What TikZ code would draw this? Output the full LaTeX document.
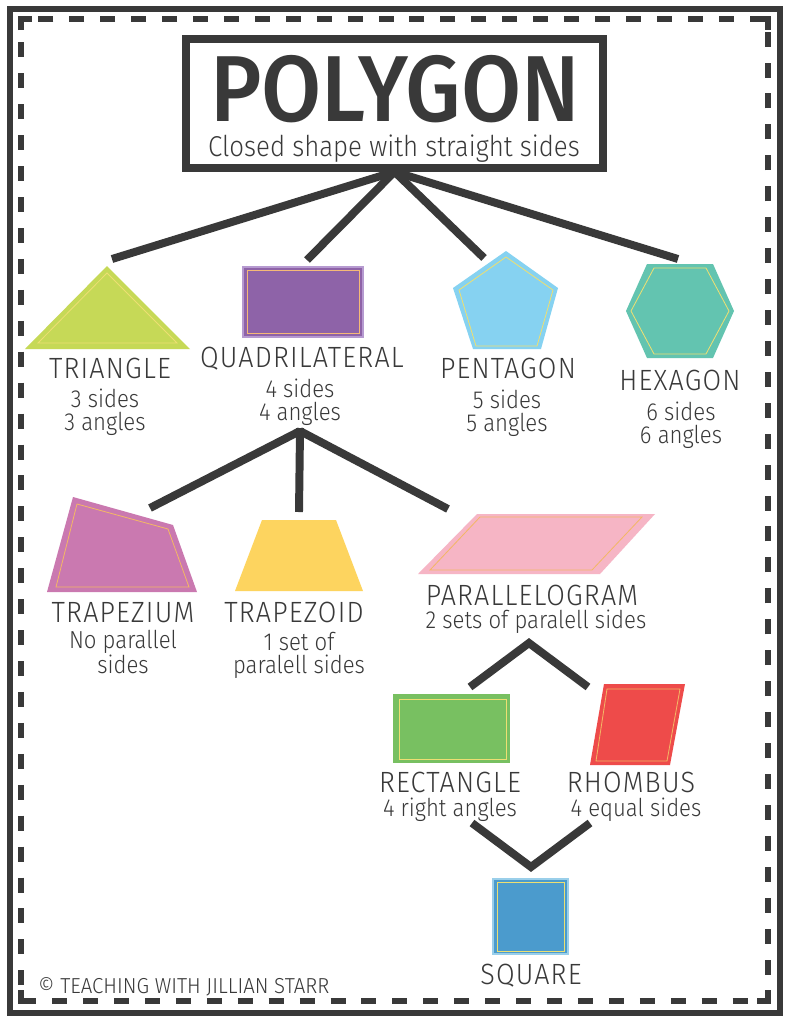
\documentclass[tikz,border=0pt]{standalone}
\usepackage{fontspec}
\setmainfont{Fira Sans Light}
\newfontfamily\titlefont[FakeStretch=0.93]{Fira Sans Medium}
\newfontfamily\capsfont[FakeStretch=0.92,LetterSpace=4]{Fira Sans Light}
\newfontfamily\descfont[FakeStretch=0.9]{Fira Sans Light}
\newfontfamily\creditfont[FakeStretch=0.94]{Fira Sans Light}
\definecolor{ink}{HTML}{393939}
\definecolor{trifill}{HTML}{C6D957}
\definecolor{quadfill}{HTML}{8E63A8}
\definecolor{quadedge}{HTML}{B69AD0}
\definecolor{pentfill}{HTML}{86D2F1}
\definecolor{hexfill}{HTML}{63C4B0}
\definecolor{trapmfill}{HTML}{CA79B0}
\definecolor{trapdfill}{HTML}{FDD45F}
\definecolor{parafill}{HTML}{F6B5C5}
\definecolor{rectfill}{HTML}{78C061}
\definecolor{rhomfill}{HTML}{EE4B4A}
\definecolor{sqfill}{HTML}{4B9BCD}
\definecolor{sqedge}{HTML}{9ACFEA}
\definecolor{yellowline}{HTML}{EDDF72}
\definecolor{orangeline}{HTML}{F3B765}
\begin{document}
\begin{tikzpicture}[x=0.03cm,y=-0.03cm,
    branch/.style={ink,line width=6.8pt,line join=miter},
    shapename/.style={text=ink,font=\capsfont\fontsize{25}{25}\selectfont,inner sep=0pt,anchor=base},
    shapedesc/.style={text=ink,font=\descfont\fontsize{21}{19.1}\selectfont,inner sep=0pt,anchor=base,align=center},
    insetline/.style={line width=0.7pt},
    titlebox/.style={draw=ink,line width=6.4pt,minimum width=12.51cm,minimum height=3.87cm,inner sep=0pt}]
        \useasboundingbox (0,0) rectangle (789,1024);
        \fill[white] (0,0) rectangle (789,1024);
        % frame
        \draw[ink,line width=5.5pt] (10,9) rectangle (780,1013);
        \draw[ink,line width=5pt,dash pattern=on 12.8pt off 13.6pt,dash phase=-20pt] (21,19) rectangle (768,1001);
        \draw[ink,line width=5pt,line join=miter] (21,30) -- (21,19) -- (32,19);
        \draw[ink,line width=5pt,line join=miter] (757,19) -- (768,19) -- (768,30);
        \draw[ink,line width=5pt,line join=miter] (21,990) -- (21,1001) -- (32,1001);
        \draw[ink,line width=5pt,line join=miter] (757,1001) -- (768,1001) -- (768,990);
        % title
        \node[titlebox] (title) at (394.5,103.5) {};
        \node[text=ink,font=\titlefont\fontsize{80}{80}\selectfont,inner sep=0pt,anchor=base] (polygon) at (395,121) {POLYGON};
        \node[text=ink,font=\descfont\fontsize{24.5}{24.5}\selectfont,inner sep=0pt,anchor=base] (closed) at (394,156) {Closed shape with straight sides};
        % first level
        \coordinate (hub) at (title.south);
        \coordinate (triend) at (112,259);
        \coordinate (quadend) at (307,260);
        \coordinate (pentend) at (484,258);
        \coordinate (hexend) at (678,259);
        \draw[branch] (hub) -- (triend);
        \draw[branch] (hub) -- (quadend);
        \draw[branch] (hub) -- (pentend);
        \draw[branch] (hub) -- (hexend);
        % triangle
        \fill[trifill] (107,266) -- (190,349) -- (25,349) -- cycle;
        \draw[yellowline,insetline] (107,273) -- (177,343) -- (38,343) -- cycle;
        \node[shapename] (triangle) at (110,378) {TRIANGLE};
        \node[shapedesc] (tridesc) at (105,430) {3 sides\\3 angles};
        % quadrilateral
        \draw[fill=quadfill,draw=quadedge,line width=1pt] (243,267) rectangle (363,337);
        \draw[orangeline!80!pink,insetline] (247,270) rectangle (359,333);
        \node[shapename] (quadrilateral) at (302,367) {QUADRILATERAL};
        \node[shapedesc] (quaddesc) at (300,420) {4 sides\\4 angles};
        % pentagon
        \fill[pentfill] (506,251) -- (558,288) -- (541,349) -- (473,349) -- (453,288) -- cycle;
        \draw[yellowline,insetline] (506,257) -- (553,290) -- (537,346) -- (476,346) -- (459,290) -- cycle;
        \node[shapename] (pentagon) at (508,378) {PENTAGON};
        \node[shapedesc] (pentdesc) at (507,431) {5 sides\\5 angles};
        % hexagon
        \fill[hexfill] (647,264) -- (713,264) -- (734,311) -- (713,358) -- (647,358) -- (626,311) -- cycle;
        \draw[yellowline,insetline] (654,268) -- (706,268) -- (729,311) -- (706,354) -- (654,354) -- (631,311) -- cycle;
        \node[shapename] (hexagon) at (680,390) {HEXAGON};
        \node[shapedesc] (hexdesc) at (681,443) {6 sides\\6 angles};
        % second level
        \coordinate (quadhub) at (300,431);
        \coordinate (trapmend) at (150,508);
        \coordinate (trapdend) at (299,512);
        \coordinate (paraend) at (448,509);
        \draw[branch] (quadhub) -- (trapmend);
        \draw[branch] (quadhub) -- (trapdend);
        \draw[branch] (quadhub) -- (paraend);
        \draw[branch] (300,428) -- (quadhub);
        % trapezium
        \fill[trapmfill] (73,497) -- (173,525) -- (197,592) -- (47,592) -- cycle;
        \draw[orangeline,insetline] (77,504) -- (168,529) -- (189,587) -- (56,587) -- cycle;
        \node[shapename] (trapezium) at (123,622) {TRAPEZIUM};
        \node[shapedesc] (trapmdesc) at (123,673) {No parallel\\sides};
        % trapezoid
        \fill[trapdfill] (262,520) -- (336,520) -- (363,591) -- (235,591) -- cycle;
        \node[shapename] (trapezoid) at (294,622) {TRAPEZOID};
        \node[shapedesc] (trapddesc) at (299,673) {1 set of\\paralell sides};
        % parallelogram
        \fill[parafill] (477,514) -- (655,514) -- (600,574) -- (418,574) -- cycle;
        \draw[orangeline,insetline] (480,517) -- (642,517) -- (592,570) -- (430,570) -- cycle;
        \node[shapename] (parallelogram) at (532,605) {PARALLELOGRAM};
        \node[shapedesc] (paradesc) at (536,628) {2 sets of paralell sides};
        % third level
        \coordinate (parahub) at (529,643);
        \coordinate (rectend) at (470,687);
        \coordinate (rhomend) at (588,687);
        \draw[branch] (rectend) -- (parahub) -- (rhomend);
        % rectangle
        \fill[rectfill] (393,694) rectangle (510,763);
        \draw[yellowline,insetline] (399,699) rectangle (506,759);
        \node[shapename] (rectangle) at (450,792) {RECTANGLE};
        \node[shapedesc] (rectdesc) at (450,816) {4 right angles};
        % rhombus
        \fill[rhomfill] (604,684) -- (685,684) -- (670,765) -- (590,765) -- cycle;
        \draw[orangeline,insetline] (607,689) -- (680,689) -- (667,761) -- (596,761) -- cycle;
        \node[shapename] (rhombus) at (631,792) {RHOMBUS};
        \node[shapedesc] (rhomdesc) at (636,816) {4 equal sides};
        % fourth level
        \coordinate (sqhub) at (531,867);
        \coordinate (rectleg) at (472,823);
        \coordinate (rhomleg) at (590,823);
        \draw[branch] (rectleg) -- (sqhub) -- (rhomleg);
        % square
        \draw[fill=sqfill,draw=sqedge,line width=1pt] (493,879) rectangle (568,954);
        \draw[yellowline,insetline] (497,882) rectangle (564,951);
        \node[shapename] (square) at (531,984) {SQUARE};
        % credit
        \node[text=ink,font=\creditfont\fontsize{18.5}{18.5}\selectfont,inner sep=0pt,anchor=base west] (credit) at (38,993) {© TEACHING WITH JILLIAN STARR};
\end{tikzpicture}
\end{document}
